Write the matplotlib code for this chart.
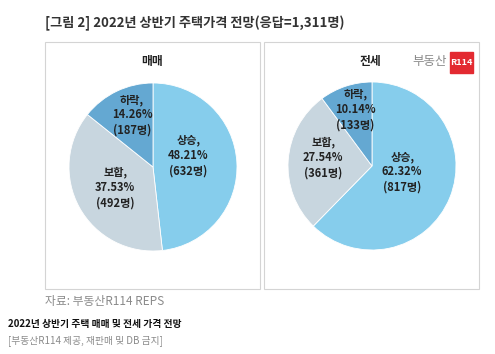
import matplotlib.pyplot as plt
from matplotlib.patches import Rectangle

plt.rcParams['font.family'] = ['Noto Sans CJK KR', 'DejaVu Sans']

categories = ['상승', '보합', '하락']
sale_pct = [48.21, 37.53, 14.26]
sale_cnt = [632, 492, 187]
rent_pct = [62.32, 27.54, 10.14]
rent_cnt = [817, 361, 133]
colors = ['#86cdec', '#c8d6df', '#64a8d2']

fig = plt.figure(figsize=(4.95, 3.54), dpi=100, facecolor='white')

# panel boxes
for x0 in [45, 264]:
    fig.patches.append(Rectangle((x0 / 495, 1 - 289 / 354), 215 / 495, 247 / 354,
                                 transform=fig.transFigure, fill=False,
                                 edgecolor='#d4d4d4', linewidth=0.8))

def draw_pie(rect, pct, cnt, title, title_x, label_pos):
    ax = fig.add_axes(rect)
    wedges, _ = ax.pie(pct, colors=colors, startangle=90, counterclock=False,
                       wedgeprops=dict(edgecolor='white', linewidth=0.6))
    ax.set_xlim(-1, 1)
    ax.set_ylim(-1, 1)
    ax.set_aspect('equal')
    for name, p, c, (lx, ly) in zip(categories, pct, cnt, label_pos):
        ax.text(lx, ly, f'{name},\n{p:.2f}%\n({c}명)', ha='center', va='center',
                fontsize=8, fontweight='bold', color='#222222', linespacing=1.25)
    fig.text(title_x / 495, 1 - 62 / 354, title, ha='center', va='center',
             fontsize=8.5, fontweight='bold', color='#222222')

draw_pie([69 / 495, 1 - 251 / 354, 168 / 495, 168 / 354], sale_pct, sale_cnt, '매매', 152,
         [(0.42, 0.14), (-0.45, -0.24), (-0.25, 0.62)])
draw_pie([288 / 495, 1 - 250 / 354, 168 / 495, 168 / 354], rent_pct, rent_cnt, '전세', 370,
         [(0.36, -0.07), (-0.58, 0.10), (-0.20, 0.67)])

# logo
fig.text(447 / 495, 1 - 62 / 354, '부동산', ha='right', va='center', fontsize=9,
         color='#8a8a8a')
fig.patches.append(Rectangle((450 / 495, 1 - 73 / 354), 23 / 495, 21 / 354,
                             transform=fig.transFigure, color='#e32a31'))
fig.text(461.5 / 495, 1 - 62.5 / 354, 'R114', ha='center', va='center', fontsize=6.5,
         color='white', fontweight='bold')

fig.text(45 / 495, 1 - 23 / 354, '[그림 2] 2022년 상반기 주택가격 전망(응답=1,311명)',
         ha='left', va='center', fontsize=9.5, fontweight='bold', color='#333333')
fig.text(45 / 495, 1 - 302 / 354, '자료: 부동산R114 REPS', ha='left', va='center',
         fontsize=8.5, color='#8a8a8a')
fig.text(8 / 495, 1 - 324 / 354, '2022년 상반기 주택 매매 및 전세 가격 전망', ha='left',
         va='center', fontsize=7, fontweight='bold', color='#111111')
fig.text(8 / 495, 1 - 341 / 354, '[부동산R114 제공, 재판매 및 DB 금지]', ha='left',
         va='center', fontsize=7, color='#8a8a8a')

plt.savefig('out.png', dpi=100)
